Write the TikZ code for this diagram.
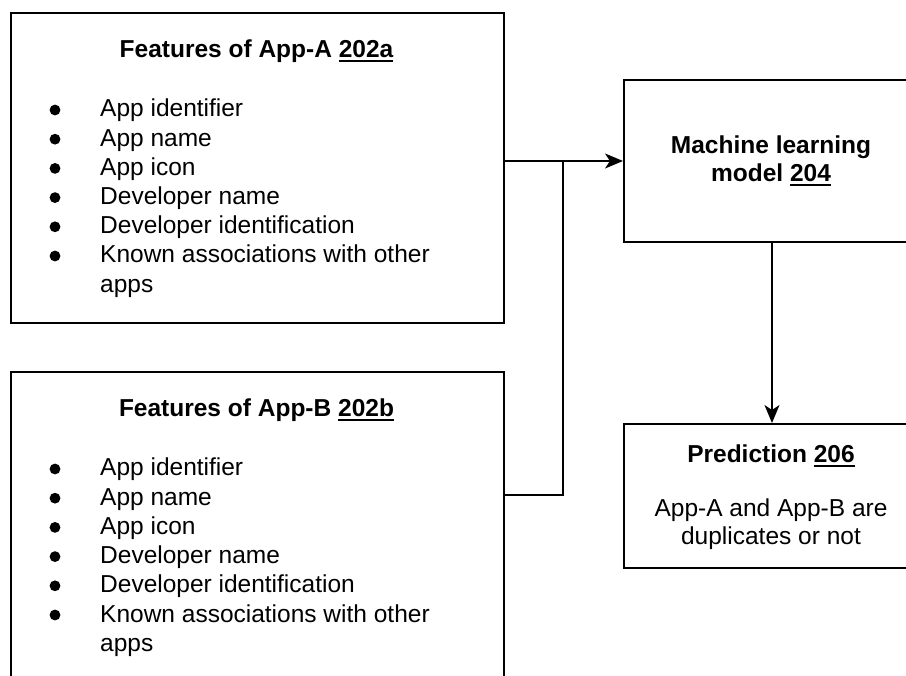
\documentclass[tikz,border=0pt]{standalone}
\usepackage{fontspec}
\setmainfont{Liberation Sans}
\usetikzlibrary{arrows.meta}
\newcommand\ulnum[1]{\setbox0\hbox{#1}\rlap{\rule[-3.8pt]{\wd0}{1.6pt}}\box0}
\begin{document}
\begin{tikzpicture}[x=1pt,y=-1pt,
  box/.style={draw, line width=2pt, rectangle, inner sep=0pt},
  txt/.style={inner sep=0pt, font=\fontsize{24.5}{29}\selectfont},
  ttl/.style={inner sep=0pt, font=\fontsize{24.5}{29}\selectfont\bfseries},
  conn/.style={line width=2pt},
  arr/.style={conn, -{Stealth[length=18pt,width=15pt,inset=5pt]}}]
\useasboundingbox (0,0) rectangle (906,676);
\clip (0,0) rectangle (906,676);
% boxes
\node[box, anchor=north west, minimum width=493pt, minimum height=310pt] (A) at (10,12) {};
\node[box, anchor=north west, minimum width=493pt, minimum height=340pt] (B) at (10,371) {};
\node[box, anchor=north west, minimum width=296pt, minimum height=162pt] (ML) at (623,79) {};
\node[box, anchor=north west, minimum width=296pt, minimum height=144pt] (P) at (623,423) {};
% titles
\node[ttl, anchor=base] (At) at (256.5,58) {Features of App-A \ulnum{202a}};
\node[ttl, anchor=base] (Bt) at (256.5,417) {Features of App-B \ulnum{202b}};
\node[ttl, anchor=base] (MLt1) at (771,154) {Machine learning};
\node[ttl, anchor=base] (MLt2) at (771,182) {model \ulnum{204}};
\node[ttl, anchor=base] (Pt) at (771,463) {Prediction \ulnum{206}};
\node[txt, anchor=base] (Pl1) at (771,517) {App-A and App-B are};
\node[txt, anchor=base] (Pl2) at (771,544) {duplicates or not};
% lists
\foreach \off/\n in {0/a,359/b}{
  \foreach \t [count=\i] in {App identifier, App name, App icon, Developer name, Developer identification, Known associations with other}{
    \node[txt, anchor=base west] (\n\i) at (100,{117+\off+29.2*(\i-1)}) {\t};
    \fill (55,{110+\off+29.2*(\i-1)}) circle (5.4pt);
  }
  \node[txt, anchor=base west] (\n7) at (100,{117+\off+29.2*6}) {apps};
}
% connectors
\coordinate (J) at (563,160);
\draw[arr] (ML.west -| A.east) -- (ML.west);
\draw[conn] (B.north east) ++(0,124) -| (J);
\draw[arr] (ML.south) -- (P.north);
\end{tikzpicture}
\end{document}
